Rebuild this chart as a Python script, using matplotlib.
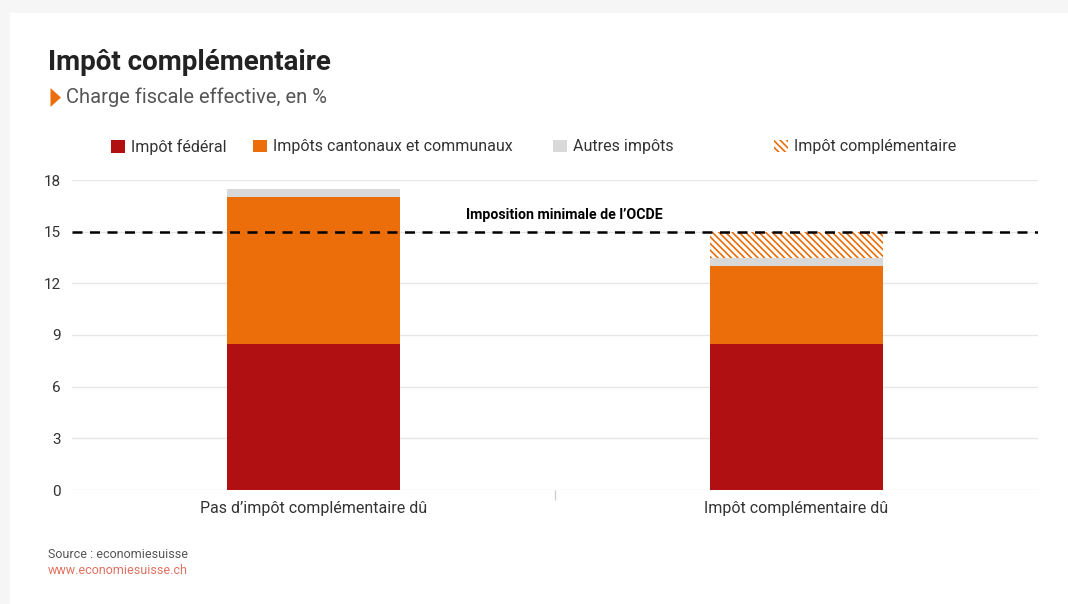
import matplotlib.pyplot as plt
from matplotlib.patches import Rectangle, Patch
from matplotlib.lines import Line2D
import numpy as np

plt.rcParams['font.family'] = ['Roboto', 'DejaVu Sans']
plt.rcParams['hatch.linewidth'] = 1.2

# data (charge fiscale effective, en %)
categories = ["Pas d\u2019impôt complémentaire dû", "Impôt complémentaire dû"]
federal = [8.5, 8.5]
cantonal = [8.5, 4.5]
autres = [0.5, 0.5]
complementaire = [0.0, 1.5]
ocde_min = 15

c_red = '#b01011'
c_orange = '#eb6e0a'
c_grey = '#d9d9d9'
hatch = '\\' * 5

fig = plt.figure(figsize=(10.68, 6.04), dpi=100)
fig.patch.set_facecolor('#f6f6f6')
fig.patches.append(Rectangle((10/1068, 0), 1, 1 - 13/604, transform=fig.transFigure,
                             facecolor='white', edgecolor='none', zorder=-10))

ax = fig.add_axes([72/1068, 114/604, 966/1068, 310/604])
ax.set_facecolor('white')

x = np.arange(len(categories))
w = 0.36
b1 = np.array(federal)
b2 = b1 + np.array(cantonal)
b3 = b2 + np.array(autres)
ax.bar(x, federal, w, color=c_red, zorder=3)
ax.bar(x, cantonal, w, bottom=b1, color=c_orange, zorder=3)
ax.bar(x, autres, w, bottom=b2, color=c_grey, zorder=3)
ax.bar(x, complementaire, w, bottom=b3, facecolor='white', edgecolor=c_orange,
       hatch=hatch, linewidth=0, zorder=3)

# OCDE line
ax.axhline(ocde_min, color='black', lw=1.8, dashes=(4, 3), zorder=4)
ax.text(0.52, ocde_min + 0.55, "Imposition minimale de l\u2019OCDE", ha='center', va='bottom',
        fontsize=10.2, fontweight='bold', color='black')

ax.set_xlim(-0.5, 1.5)
ax.set_ylim(0, 18)
ax.set_yticks([0, 3, 6, 9, 12, 15, 18])
ax.grid(axis='y', color='#e6e6e6', lw=1, zorder=0)
ax.set_axisbelow(True)
for s in ax.spines.values():
    s.set_visible(False)
ax.tick_params(axis='y', length=0, labelsize=11, labelcolor='#333333', pad=8)
ax.set_xticks(x)
ax.set_xticklabels(categories)
ax.tick_params(axis='x', length=0, labelsize=11.5, labelcolor='#333333', pad=8)
ax.set_xticks([0.5], minor=True)
ax.tick_params(axis='x', which='minor', length=7, color='#d0d0d0', width=1)

# legend, one item each
leg_items = [
    (113, Patch(facecolor=c_red), "Impôt fédéral"),
    (255, Patch(facecolor=c_orange), "Impôts cantonaux et communaux"),
    (555, Patch(facecolor=c_grey), "Autres impôts"),
    (776, Patch(facecolor='white', edgecolor=c_orange, hatch=hatch, linewidth=0), "Impôt complémentaire"),
]
for px, h, lab in leg_items:
    fig.legend([h], [lab], loc='center left', bbox_to_anchor=((px - 8)/1068, 1 - 147/604),
               frameon=False, fontsize=11.5, handlelength=0.85, handleheight=0.85,
               handletextpad=0.35, borderaxespad=0, labelcolor='#333333')

# titles
fig.text(48/1068, 1 - 62/604, "Impôt complémentaire", fontsize=20, fontweight='bold',
         color='#222222', va='center')
tri = [(0, -1), (1.1, 0), (0, 1), (0, -1)]
fig.add_artist(Line2D([50/1068], [1 - 97/604], marker=tri, markersize=15, color=c_orange,
                      markeredgewidth=0, transform=fig.transFigure))
fig.text(66/1068, 1 - 97/604, "Charge fiscale effective, en %", fontsize=14.5,
         color='#555555', va='center')

# source
fig.text(48/1068, 1 - 555/604, "Source : economiesuisse", fontsize=9, color='#555555', va='center')
fig.text(48/1068, 1 - 571/604, "www.economiesuisse.ch", fontsize=9, color='#e07060', va='center')

fig.savefig('out.png', dpi=100, facecolor=fig.get_facecolor())
